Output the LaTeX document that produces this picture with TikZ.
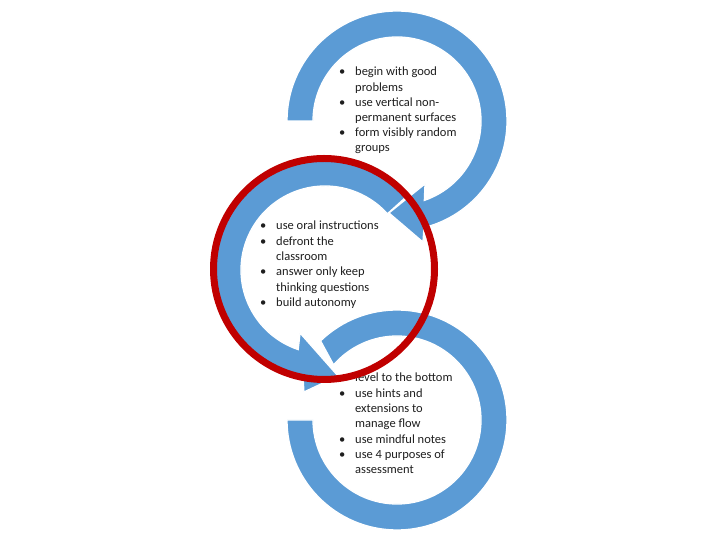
\documentclass[tikz,border=0pt]{standalone}
\usepackage{fontspec}
\setmainfont{Carlito}
\definecolor{ringblue}{HTML}{5B9BD5}
\definecolor{markred}{HTML}{C00000}
\definecolor{txt}{HTML}{1E1E1E}
\tikzset{
  ring/.style={fill=ringblue, draw=white, line width=1.3pt, line join=miter},
  bul/.style={anchor=base west, inner sep=0pt, font=\fontsize{12.5}{14}\selectfont, text=txt},
  textline/.style={anchor=base west, inner sep=0pt, font=\fontsize{12.5}{14}\selectfont, text=txt},
  redmark/.style={draw=markred, line width=7pt}
}
\begin{document}
\begin{tikzpicture}[x=1pt,y=1pt]
\useasboundingbox (0,0) rectangle (720,540);
\fill[white] (0,0) rectangle (720,540);
% top ring
\begin{scope}[shift={(397,419)}]
\path[ring] (180:110) arc[start angle=180, end angle=-75.8, radius=110]
  -- (-77.9:123.8) -- (-95:92.3) -- (-66:68.9) -- (-71:84)
  arc[start angle=-71, end angle=180, radius=84] -- cycle;
\end{scope}
% middle ring
\begin{scope}[shift={(325,270)}]
\path[ring] (42:110) arc[start angle=42, end angle=258.5, radius=110]
  -- (260.2:123.8) -- (277:106.8) -- (248.4:67.8) -- (251.4:84)
  arc[start angle=251.4, end angle=42, radius=84] -- cycle;
\end{scope}
% bottom ring
\begin{scope}[shift={(397,120)}]
\path[ring] (134:110) arc[start angle=134, end angle=-180, radius=110]
  -- (180:84) arc[start angle=-180, end angle=139, radius=84] -- cycle;
\end{scope}
% texts: top
\foreach \b/\t [count=\i] in {1/begin with good, 0/problems, 1/use vertical non-, 0/permanent surfaces, 1/form visibly random, 0/groups}{
  \pgfmathsetmacro\yy{540-76-15.2*(\i-1)}
  \ifnum\b=1 \node[bul] (tb\i) at (339,\yy) {•};\fi
  \node[textline] (tt\i) at (355,\yy) {\t};
}
% texts: middle
\foreach \b/\t [count=\i] in {1/use oral instructions, 1/defront the, 0/classroom, 1/answer only keep, 0/thinking questions, 1/build autonomy}{
  \pgfmathsetmacro\yy{540-230-15.3*(\i-1)}
  \ifnum\b=1 \node[bul] (mb\i) at (260,\yy) {•};\fi
  \node[textline] (mt\i) at (276,\yy) {\t};
}
% texts: bottom
\foreach \b/\t [count=\i] in {1/level to the bottom, 1/use hints and, 0/extensions to, 0/manage flow, 1/use mindful notes, 1/use 4 purposes of, 0/assessment}{
  \pgfmathsetmacro\yy{540-382-15.3*(\i-1)}
  \ifnum\b=1 \node[bul] (bb\i) at (339,\yy) {•};\fi
  \node[textline] (bt\i) at (355,\yy) {\t};
}
% red highlight circle
\draw[redmark] (324,271) circle[radius=110.5];
\end{tikzpicture}
\end{document}
